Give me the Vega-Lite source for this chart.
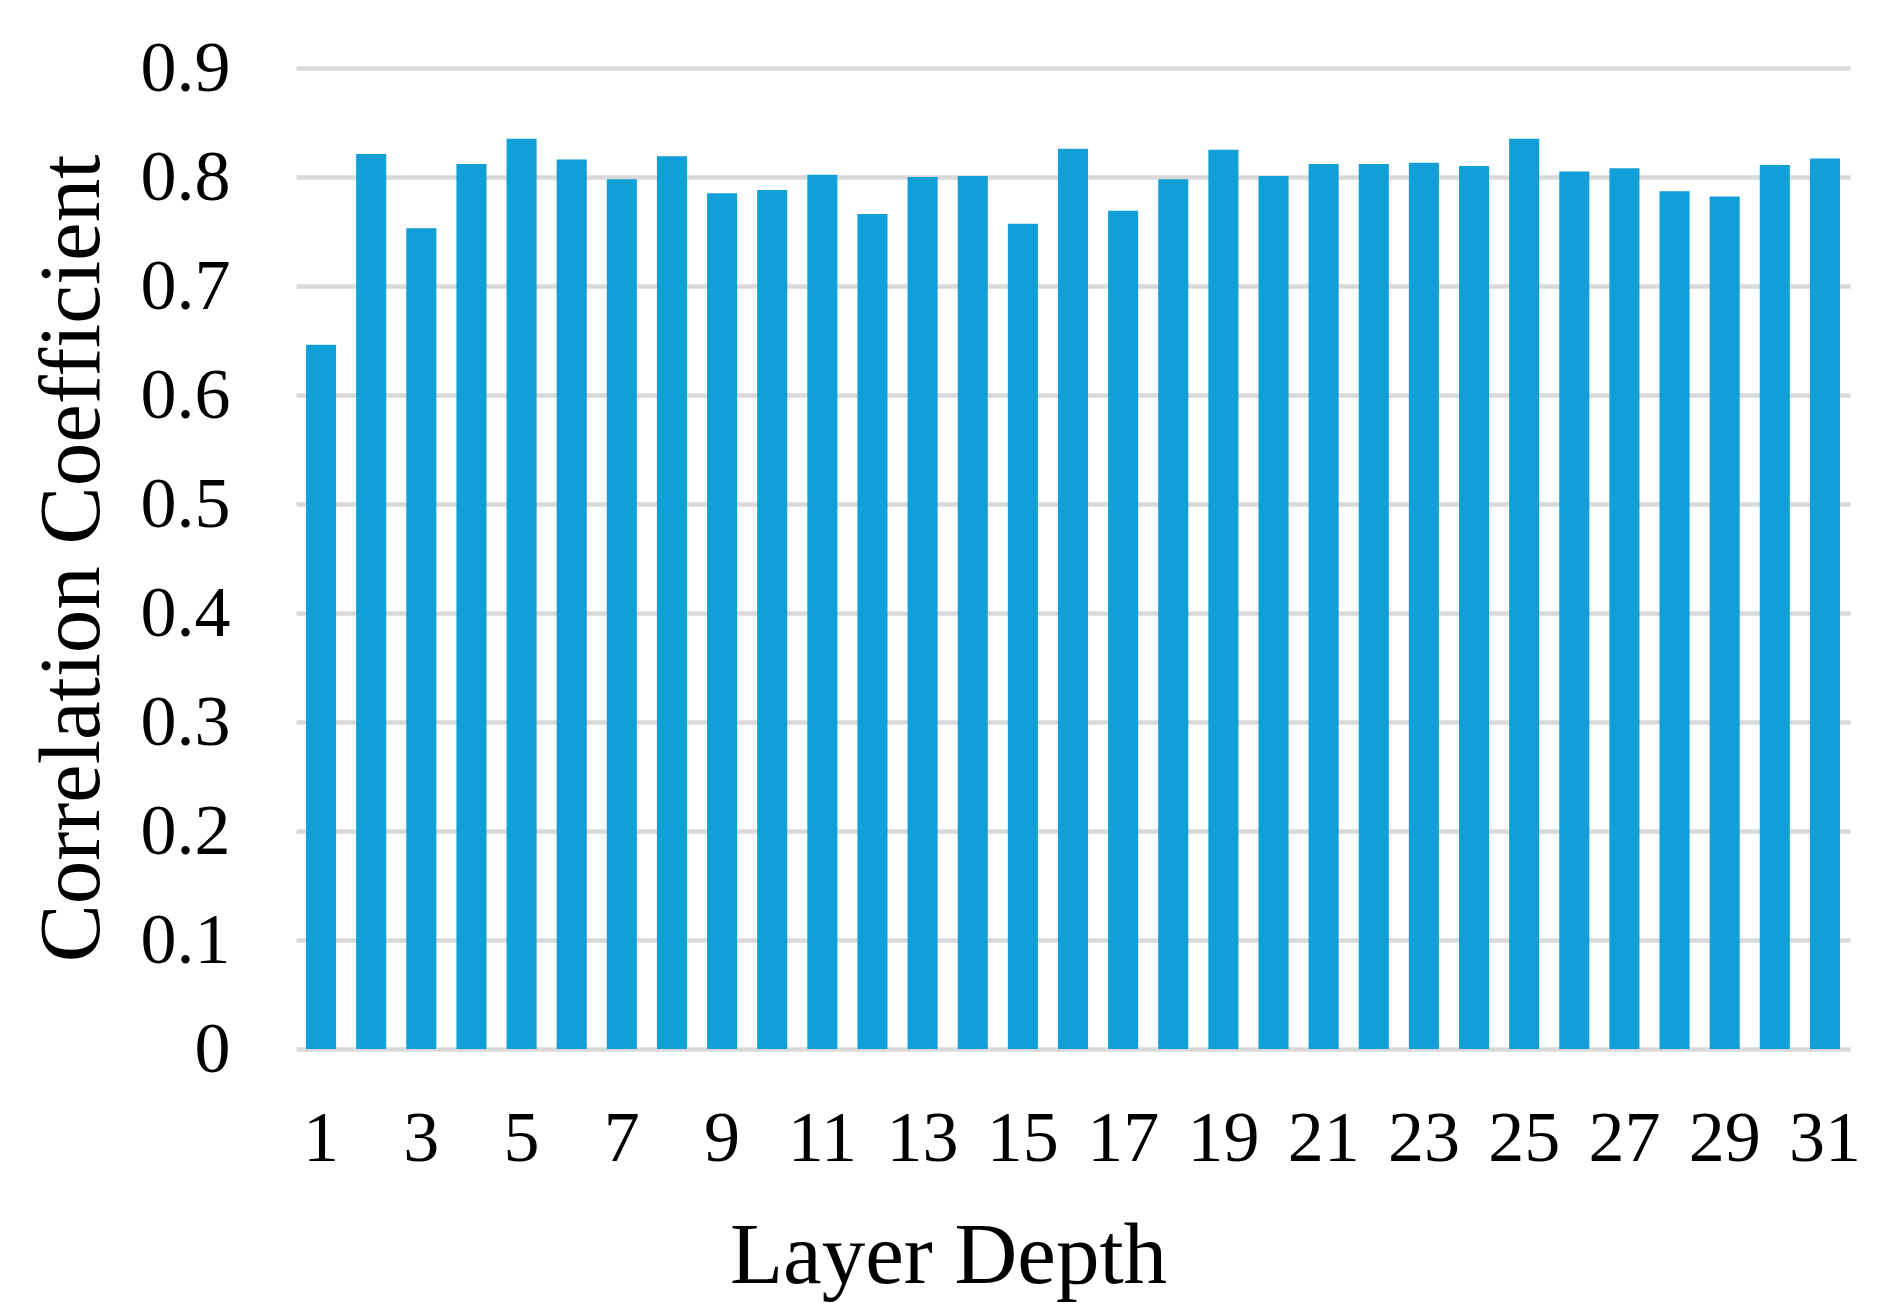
{
  "$schema": "https://vega.github.io/schema/vega-lite/v6.json",
  "autosize": "none",
  "width": 1554,
  "height": 981,
  "padding": {"left": 296, "top": 68, "right": 53, "bottom": 266},
  "background": "white",
  "config": {"view": {"stroke": null}},
  "data": {"values": [
    {"layer": 1, "r": 0.646},
    {"layer": 2, "r": 0.821},
    {"layer": 3, "r": 0.753},
    {"layer": 4, "r": 0.812},
    {"layer": 5, "r": 0.835},
    {"layer": 6, "r": 0.816},
    {"layer": 7, "r": 0.798},
    {"layer": 8, "r": 0.819},
    {"layer": 9, "r": 0.785},
    {"layer": 10, "r": 0.788},
    {"layer": 11, "r": 0.802},
    {"layer": 12, "r": 0.766},
    {"layer": 13, "r": 0.8},
    {"layer": 14, "r": 0.801},
    {"layer": 15, "r": 0.757},
    {"layer": 16, "r": 0.826},
    {"layer": 17, "r": 0.769},
    {"layer": 18, "r": 0.798},
    {"layer": 19, "r": 0.825},
    {"layer": 20, "r": 0.801},
    {"layer": 21, "r": 0.812},
    {"layer": 22, "r": 0.812},
    {"layer": 23, "r": 0.813},
    {"layer": 24, "r": 0.81},
    {"layer": 25, "r": 0.835},
    {"layer": 26, "r": 0.805},
    {"layer": 27, "r": 0.808},
    {"layer": 28, "r": 0.787},
    {"layer": 29, "r": 0.782},
    {"layer": 30, "r": 0.811},
    {"layer": 31, "r": 0.817}
  ]},
  "mark": {"type": "bar", "color": "#10a0d7"},
  "encoding": {
    "x": {
      "field": "layer",
      "type": "ordinal",
      "sort": null,
      "scale": {"paddingInner": 0.4, "paddingOuter": 0.2},
      "axis": {
        "title": "Layer Depth",
        "labelAngle": 0,
        "labelExpr": "datum.value % 2 == 1 ? datum.label : ''",
        "labelFont": "Liberation Serif",
        "labelFontSize": 72,
        "labelColor": "black",
        "labelBaseline": "alphabetic",
        "labelPadding": 111,
        "ticks": false,
        "tickSize": 0,
        "domain": false,
        "grid": false,
        "labelOverlap": false,
        "titleFont": "Liberation Serif",
        "titleFontSize": 87,
        "titleFontWeight": "normal",
        "titleColor": "black",
        "titleX": 652,
        "titleY": 233,
        "titleAlign": "center",
        "titleBaseline": "alphabetic"
      }
    },
    "y": {
      "field": "r",
      "type": "quantitative",
      "scale": {"domain": [0, 0.9], "nice": false},
      "axis": {
        "title": "Correlation Coefficient",
        "values": [0, 0.1, 0.2, 0.3, 0.4, 0.5, 0.6, 0.7, 0.8, 0.9],
        "format": ".1~f",
        "labelFont": "Liberation Serif",
        "labelFontSize": 72,
        "labelColor": "black",
        "labelAlign": "right",
        "labelBaseline": "middle",
        "labelPadding": 66,
        "ticks": false,
        "tickSize": 0,
        "domain": false,
        "grid": true,
        "gridColor": "#d9d9d9",
        "gridWidth": 4.5,
        "gridOpacity": 1,
        "titleFont": "Liberation Serif",
        "titleFontSize": 87,
        "titleFontWeight": "normal",
        "titleColor": "black",
        "titleAngle": -90,
        "titleX": -198,
        "titleY": 490,
        "titleAlign": "center",
        "titleBaseline": "alphabetic"
      }
    }
  }
}
